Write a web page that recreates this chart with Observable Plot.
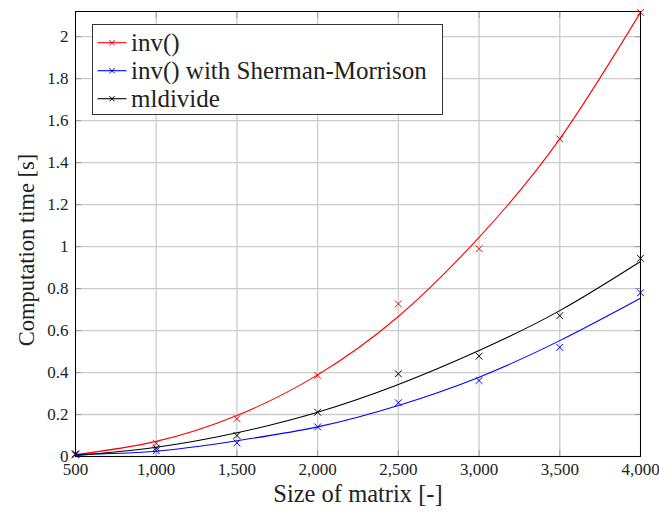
<!DOCTYPE html>
<html>
<head>
<meta charset="utf-8">
<script src="https://cdn.jsdelivr.net/npm/d3@7"></script>
<script src="https://cdn.jsdelivr.net/npm/@observablehq/plot@0.6"></script>
<style>
  html, body { margin: 0; padding: 0; background: #fff; font-family: "Liberation Serif", serif; }
  #chart svg { display: block; }
  #chart svg text { font-family: "Liberation Serif", "Times New Roman", serif !important; }
</style>
</head>
<body>
<div id="chart"></div>
<script>
// ---- data ----
const sizes = [500, 1000, 1500, 2000, 2500, 3000, 3500, 4000];
const seriesNames = ["inv()", "inv() with Sherman-Morrison", "mldivide"];
const seriesColors = ["#ff0000", "#0000ff", "#000000"];

// measured times (markers)
const invTimes = [0.012, 0.063, 0.18, 0.387, 0.727, 0.99, 1.513, 2.116];
const smTimes  = [0.008, 0.028, 0.065, 0.141, 0.256, 0.362, 0.52, 0.78];
const mldTimes = [0.012, 0.04, 0.1, 0.211, 0.394, 0.478, 0.671, 0.944];

// fitted curves (at the same sizes)
const invFit = [0.008, 0.072, 0.195, 0.389, 0.667, 1.044, 1.513, 2.116];
const smFit  = [0.010, 0.025, 0.075, 0.141, 0.243, 0.378, 0.552, 0.754];
const mldFit = [0.004, 0.044, 0.113, 0.211, 0.343, 0.505, 0.695, 0.929];

const xTicks = [500, 1000, 1500, 2000, 2500, 3000, 3500, 4000];
const yTicks = [0, 0.2, 0.4, 0.6, 0.8, 1, 1.2, 1.4, 1.6, 1.8, 2];
const xLabel = "Size of matrix [-]";
const yLabel = "Computation time [s]";

// ---- tables ----
const timesBySeries = [invTimes, smTimes, mldTimes];
const fitBySeries = [invFit, smFit, mldFit];
const points = [];
const fits = [];
seriesNames.forEach((name, s) => {
  sizes.forEach((n, i) => {
    points.push({series: name, n, t: timesBySeries[s][i]});
    fits.push({series: name, n, t: fitBySeries[s][i]});
  });
});

const font = "\"Liberation Serif\", \"Times New Roman\", serif";

const svg = Plot.plot({
  width: 659,
  height: 515,
  marginLeft: 75,
  marginRight: 19,
  marginTop: 11,
  marginBottom: 59,
  style: {fontFamily: font, fontSize: "17px", color: "#222", background: "#fff"},
  x: {domain: [500, 4000], label: null},
  y: {domain: [0, 2.12], label: null},
  color: {domain: seriesNames, range: seriesColors},
  marks: [
    Plot.gridX(xTicks, {stroke: "#cccccc", strokeOpacity: 1, strokeWidth: 1.3}),
    Plot.gridY(yTicks, {stroke: "#cccccc", strokeOpacity: 1, strokeWidth: 1.3}),
    // labels
    Plot.axisX(xTicks, {tickSize: 0, tickPadding: 6, tickFormat: d3.format(","), fontSize: 17, label: null}),
    Plot.axisY(yTicks, {tickSize: 0, tickPadding: 7, tickFormat: d => String(+d.toFixed(1)), fontSize: 17, label: null}),
    // inward ticks on all sides
    Plot.axisX(xTicks, {anchor: "bottom", tickSize: 6, dy: -6, tickFormat: () => "", stroke: "#999", label: null}),
    Plot.axisX(xTicks, {anchor: "top", tickSize: 6, dy: 6, tickFormat: () => "", stroke: "#999", label: null}),
    Plot.axisY(yTicks, {anchor: "left", tickSize: 6, dx: 6, tickFormat: () => "", stroke: "#999", label: null}),
    Plot.axisY(yTicks, {anchor: "right", tickSize: 6, dx: -6, tickFormat: () => "", stroke: "#999", label: null}),
    Plot.line(fits, {x: "n", y: "t", z: "series", stroke: "series", curve: "natural", strokeWidth: 1.1}),
    Plot.dot(points, {x: "n", y: "t", stroke: "series", symbol: "times", r: 3.2, strokeWidth: 1}),
    Plot.frame({stroke: "#000", strokeWidth: 1}),
    Plot.text([xLabel], {frameAnchor: "bottom", dy: 45, fontSize: 24.5, fill: "#222", textAnchor: "middle"}),
    Plot.text([yLabel], {frameAnchor: "left", rotate: -90, dx: -49, dy: 16, fontSize: 22.5, fill: "#222", textAnchor: "middle"})
  ]
});

// ---- legend ----
const g = d3.select(svg).append("g").attr("text-anchor", "start");
g.append("rect")
  .attr("x", 92.5).attr("y", 24.5).attr("width", 350).attr("height", 90)
  .attr("fill", "#fff").attr("stroke", "#333").attr("stroke-width", 1);
seriesNames.forEach((name, i) => {
  const cy = 42.7 + i * 28;
  const col = seriesColors[i];
  g.append("line").attr("x1", 97.5).attr("x2", 126.5).attr("y1", cy).attr("y2", cy)
    .attr("stroke", col).attr("stroke-width", 1.1);
  const s = 2.6;
  g.append("path")
    .attr("d", `M${112 - s},${cy - s}L${112 + s},${cy + s}M${112 - s},${cy + s}L${112 + s},${cy - s}`)
    .attr("stroke", col).attr("stroke-width", 1).attr("fill", "none");
  g.append("text").attr("x", 131).attr("y", cy).attr("dy", "0.33em")
    .attr("text-anchor", "start")
    .style("font-size", "25px").attr("fill", "#222").text(name);
});

document.getElementById("chart").appendChild(svg);
</script>
</body>
</html>
